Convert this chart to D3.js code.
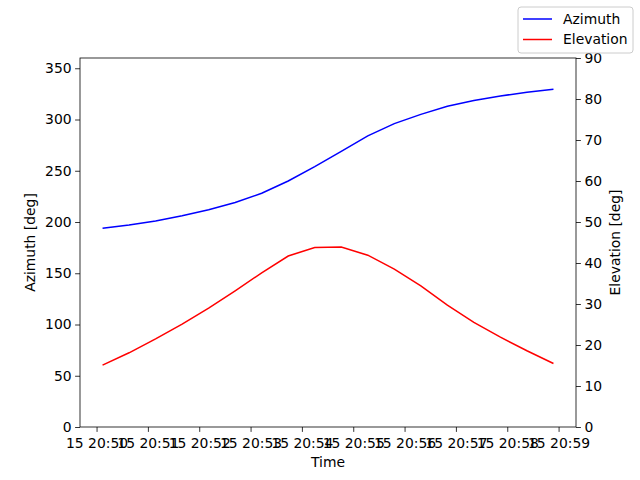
<!DOCTYPE html>
<html lang="en">
<head>
    <meta charset="UTF-8">
    <title>Azimuth / Elevation</title>
    <script src="https://d3js.org/d3.v7.min.js"></script>
    <style>
        body { margin: 0; padding: 0; background: #fff; }
        svg { display: block; font-family: "DejaVu Sans", sans-serif; }
        .axis text { font-size: 13.9px; fill: #000; font-family: "DejaVu Sans", sans-serif; }
        .axis path, .axis line { stroke: #000; stroke-width: 0.8px; }
        .label { font-size: 13.9px; fill: #000; }
    </style>
</head>
<body>
    <svg width="640" height="480"></svg>

    <script>
        // Data
        const times = [
            "20:50:07", "20:50:38", "20:51:09", "20:51:40", "20:52:11", "20:52:42",
            "20:53:13", "20:53:44", "20:54:15", "20:54:46", "20:55:17", "20:55:48",
            "20:56:19", "20:56:50", "20:57:21", "20:57:52", "20:58:23", "20:58:54"
        ];
        const azimuth = [194, 197, 201, 206, 212, 219, 228, 240, 254, 269, 284, 296, 305, 313, 318.5, 323, 326.5, 329.5];
        const elevation = [15.1, 18.1, 21.5, 25.1, 29.0, 33.2, 37.6, 41.7, 43.8, 43.9, 41.9, 38.5, 34.4, 29.7, 25.5, 21.9, 18.6, 15.5];
        const azTicks = [0, 50, 100, 150, 200, 250, 300, 350];
        const elTicks = [0, 10, 20, 30, 40, 50, 60, 70, 80, 90];
        const timeTicks = ["20:50", "20:51", "20:52", "20:53", "20:54", "20:55", "20:56", "20:57", "20:58", "20:59"];

        const parse = d3.utcParse("%Y-%m-%d %H:%M:%S");
        const day = "2024-01-15";
        const data = times.map((t, i) => ({
            t: parse(day + " " + t),
            az: azimuth[i],
            el: elevation[i]
        }));

        const margin = {top: 58, right: 64, bottom: 53, left: 80};
        const width = 640 - margin.left - margin.right;
        const height = 480 - margin.top - margin.bottom;

        const svg = d3.select("svg");
        const g = svg.append("g").attr("transform", `translate(${margin.left},${margin.top})`);

        // matplotlib-like 5% padding on time axis
        const ext = d3.extent(data, d => d.t);
        const pad = (ext[1] - ext[0]) * 0.05;
        const x = d3.scaleUtc()
            .domain([new Date(+ext[0] - pad), new Date(+ext[1] + pad)])
            .range([0, width]);
        const yL = d3.scaleLinear().domain([0, 360]).range([height, 0]);
        const yR = d3.scaleLinear().domain([0, 90]).range([height, 0]);

        const fmt = d3.utcFormat("%d %H:%M");

        g.append("g")
            .attr("class", "axis")
            .attr("transform", `translate(0,${height})`)
            .call(d3.axisBottom(x)
                .tickValues(timeTicks.map(s => parse(day + " " + s + ":00")))
                .tickFormat(fmt)
                .tickSize(4.9).tickPadding(3.5))
            .call(a => a.select(".domain").remove())
            .selectAll("text").attr("dy", "0.9em");

        g.append("g")
            .attr("class", "axis")
            .call(d3.axisLeft(yL).tickValues(azTicks).tickSize(4.9).tickPadding(3.5))
            .call(a => a.select(".domain").remove());

        g.append("g")
            .attr("class", "axis")
            .attr("transform", `translate(${width},0)`)
            .call(d3.axisRight(yR).tickValues(elTicks).tickSize(4.9).tickPadding(3.5))
            .call(a => a.select(".domain").remove());

        // frame
        g.append("rect")
            .attr("width", width).attr("height", height)
            .attr("fill", "none").attr("stroke", "#000").attr("stroke-width", 0.8);

        const azLine = d3.line().x(d => x(d.t)).y(d => yL(d.az));
        const elLine = d3.line().x(d => x(d.t)).y(d => yR(d.el));

        g.append("path").datum(data)
            .attr("d", azLine).attr("fill", "none")
            .attr("stroke", "#0000ff").attr("stroke-width", 1.5);
        g.append("path").datum(data)
            .attr("d", elLine).attr("fill", "none")
            .attr("stroke", "#ff0000").attr("stroke-width", 1.5);

        // axis labels
        svg.append("text").attr("class", "label")
            .attr("x", margin.left + width / 2).attr("y", 467)
            .attr("text-anchor", "middle").text("Time");
        svg.append("text").attr("class", "label")
            .attr("transform", `translate(35,${margin.top + height / 2}) rotate(-90)`)
            .attr("text-anchor", "middle").text("Azimuth [deg]");
        svg.append("text").attr("class", "label")
            .attr("transform", `translate(620,${margin.top + height / 2}) rotate(-90)`)
            .attr("text-anchor", "middle").text("Elevation [deg]");

        // legend
        const leg = svg.append("g").attr("transform", "translate(518,7)");
        leg.append("rect")
            .attr("width", 115).attr("height", 46).attr("rx", 3)
            .attr("fill", "#fff").attr("fill-opacity", 0.8)
            .attr("stroke", "#cccccc").attr("stroke-width", 1);
        const items = [{name: "Azimuth", color: "#0000ff"}, {name: "Elevation", color: "#ff0000"}];
        items.forEach((it, i) => {
            const yy = 12 + i * 20.5;
            leg.append("line")
                .attr("x1", 5).attr("x2", 34).attr("y1", yy).attr("y2", yy)
                .attr("stroke", it.color).attr("stroke-width", 1.5);
            leg.append("text").attr("class", "label")
                .attr("x", 45).attr("y", yy).attr("dy", "0.35em")
                .text(it.name);
        });
    </script>
</body>
</html>
